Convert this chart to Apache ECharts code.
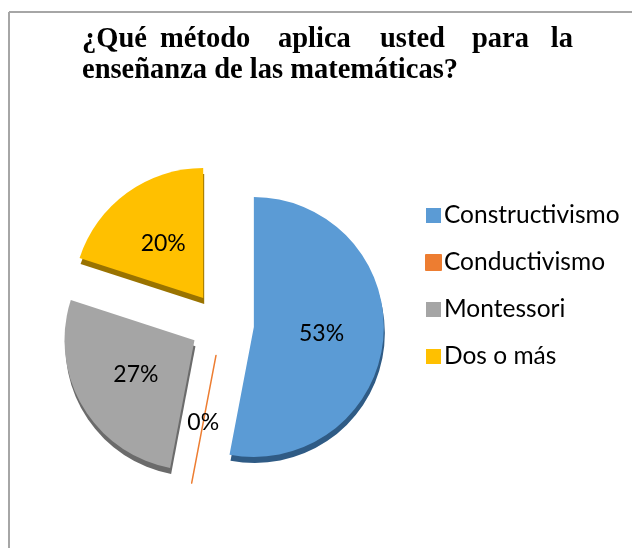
<!DOCTYPE html>
<html>
<head>
<meta charset="utf-8">
<script src="https://cdn.jsdelivr.net/npm/echarts@6/dist/echarts.min.js"></script>
<style>
  html, body { margin: 0; padding: 0; background: #fff; }
  #chart { width: 632px; height: 548px; }
</style>
</head>
<body>
<div id="chart"></div>
<script>
// datos
var categories = ['Constructivismo', 'Conductivismo', 'Montessori', 'Dos o más']
var values = [53, 0, 27, 20]
var colors = ['#5B9BD5', '#ED7D31', '#A5A5A5', '#FFC000']
var sideColors = ['#2F5B85', '#ED7D31', '#6B6B6B', '#9A7300']

// titulo justificado: primera linea palabra por palabra
var titleLine1 = ['¿Qué', 'método', 'aplica', 'usted', 'para', 'la']
var titleLine1X = [82, 160, 278, 380, 472, 573]
var titleLine2 = 'enseñanza de las matemáticas?'

var titleFont = 'bold 28.5px "Liberation Serif", "Times New Roman", serif'

var chart = echarts.init(document.getElementById('chart'))

var graphics = [
  // borde del area del grafico (solo arriba e izquierda visibles)
  { type: 'line', shape: { x1: 9, y1: 12, x2: 632, y2: 12 }, style: { stroke: '#A6A6A6', lineWidth: 2 } },
  { type: 'line', shape: { x1: 9, y1: 12, x2: 9, y2: 548 }, style: { stroke: '#A6A6A6', lineWidth: 2 } }
]
titleLine1.forEach(function(w, i) {
  graphics.push({
    type: 'text',
    x: titleLine1X[i],
    y: 25,
    style: {
      text: w,
      font: titleFont,
      fill: '#000',
      textAlign: i === titleLine1.length - 1 ? 'right' : 'left'
    }
  })
})
graphics.push({
  type: 'text',
  x: 82,
  y: 56,
  style: { text: titleLine2, font: titleFont, fill: '#000', textAlign: 'left' }
})

var pieData = categories.map(function(name, i) {
  var item = {
    name: name,
    value: values[i],
    selected: true,
    itemStyle: {
      color: colors[i],
      shadowColor: sideColors[i],
      shadowOffsetX: 1,
      shadowOffsetY: 6,
      shadowBlur: 0
    }
  }
  if (values[i] === 0) {
    item.itemStyle.borderColor = colors[i]
    item.itemStyle.borderWidth = 1.5
    item.itemStyle.shadowOffsetY = 0
    item.itemStyle.shadowOffsetX = 0
  }
  return item
})

chart.setOption({
  animation: false,
  graphic: graphics,
  legend: {
    orient: 'vertical',
    left: 420,
    top: 198,
    itemWidth: 15,
    itemHeight: 15,
    itemGap: 22,
    icon: 'rect',
    selectedMode: false,
    textStyle: {
      fontFamily: 'Lato, "Open Sans", sans-serif',
      fontSize: 24.5,
      color: '#000',
      padding: [0, 0, 0, -2]
    },
    data: categories
  },
  series: [
    {
      type: 'pie',
      center: [222, 324],
      radius: 130,
      clockwise: true,
      startAngle: 90,
      selectedMode: 'multiple',
      selectedOffset: 32,
      percentPrecision: 0,
      avoidLabelOverlap: false,
      emphasis: { disabled: true },
      label: {
        show: true,
        position: 'inside',
        formatter: '{d}%',
        fontFamily: 'Lato, "Open Sans", sans-serif',
        fontSize: 23,
        color: '#000'
      },
      labelLine: { show: false },
      data: pieData
    }
  ]
})
</script>
</body>
</html>
